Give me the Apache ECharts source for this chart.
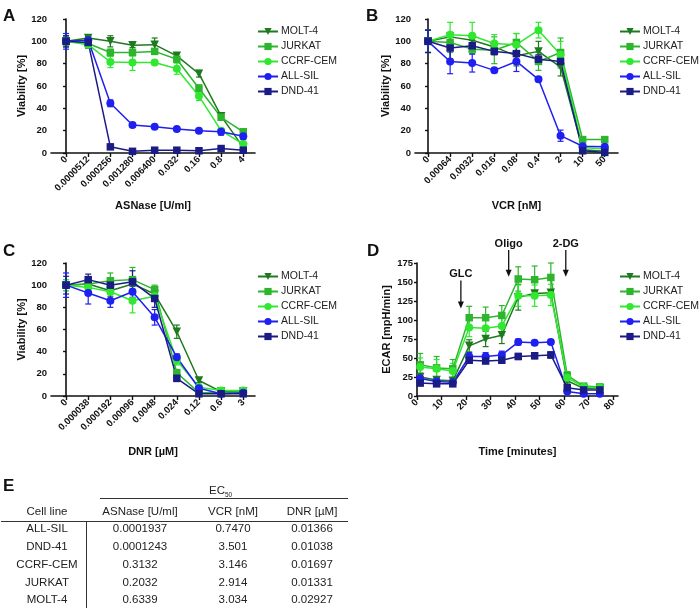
<!DOCTYPE html>
<html><head><meta charset="utf-8">
<script src="https://cdn.jsdelivr.net/npm/echarts@6/dist/echarts.min.js"></script>
<style>html,body{margin:0;padding:0;background:#fff}#c{width:700px;height:612px}</style>
</head><body><div id="c"></div>
<script>
// ---------- data ----------
const cellLines = ['MOLT-4', 'JURKAT', 'CCRF-CEM', 'ALL-SIL', 'DND-41'];

// Panel A: ASNase [U/ml]
const asnaseDoses = ['0', '0.0000512', '0.000256', '0.001280', '0.006400', '0.032', '0.16', '0.8', '4'];
const asnaseMOLT4 = [100, 103, 100, 96.5, 97, 87, 71, 33, 5];
const asnaseJURKAT = [100, 98, 90, 90, 91, 84, 58, 32, 19];
const asnaseCCRF = [100, 97, 81.5, 81, 81, 75.5, 51, 20, 8];
const asnaseALLSIL = [100, 101, 44.5, 25, 23.5, 21.5, 20, 19, 15];
const asnaseDND41 = [100, 99, 5.5, 1.5, 2.5, 2.5, 2, 4, 2.5];
const asnaseErrMOLT4 = [5, 3, 5, 2, 6, 2, 3, 2, 1];
const asnaseErrJURKAT = [4, 3, 3, 3, 2, 2, 3, 2, 1];
const asnaseErrCCRF = [4, 3, 5, 7, 2, 5, 4, 2, 1];
const asnaseErrALLSIL = [7, 3, 3, 2, 1, 1, 1, 3, 3];
const asnaseErrDND41 = [5, 5, 1, 1, 1, 1, 1, 1, 1];

// Panel B: VCR [nM]
const vcrDoses = ['0', '0.00064', '0.0032', '0.016', '0.08', '0.4', '2', '10', '50'];
const vcrMOLT4 = [100, 104, 101, 95, 87, 91, 77, 3, 1.5];
const vcrJURKAT = [100, 99, 93, 92, 99, 82, 90, 12, 12];
const vcrCCRF = [100, 106, 105, 98, 97, 110, 88, 5, 3.5];
const vcrALLSIL = [100, 82, 80.5, 74, 82, 66, 15.5, 6, 5.5];
const vcrDND41 = [100, 94, 96, 91, 89, 84, 82, 2, 0.5];
const vcrErrMOLT4 = [10, 3, 2, 3, 9, 9, 8, 1, 1];
const vcrErrJURKAT = [10, 9, 4, 12, 8, 8, 13, 1, 1];
const vcrErrCCRF = [10, 11, 12, 8, 10, 7, 12, 1, 1];
const vcrErrALLSIL = [10, 11, 8, 2, 9, 2, 5, 1, 1];
const vcrErrDND41 = [10, 10, 5, 3, 7, 4, 4, 1, 1];

// Panel C: DNR [µM]
const dnrDoses = ['0', '0.000038', '0.000192', '0.00096', '0.0048', '0.024', '0.12', '0.6', '3'];
const dnrMOLT4 = [100, 101, 95, 101, 92, 58, 14, 4, 4];
const dnrJURKAT = [100, 101, 104, 105, 96, 21, 3, 3, 4];
const dnrCCRF = [100, 98, 94, 86, 90, 32, 8, 5, 5];
const dnrALLSIL = [100, 93, 86, 94, 71, 35, 7, 2, 3];
const dnrDND41 = [100, 105, 100, 103, 88, 16, 2, 2, 2];
const dnrErrMOLT4 = [2, 3, 5, 6, 3, 6, 2, 1, 1];
const dnrErrJURKAT = [5, 5, 7, 11, 4, 3, 1, 1, 1];
const dnrErrCCRF = [5, 6, 7, 11, 4, 4, 2, 1, 1];
const dnrErrALLSIL = [11, 10, 6, 5, 7, 3, 2, 1, 1];
const dnrErrDND41 = [8, 5, 6, 10, 8, 3, 1, 1, 1];

// Panel D: ECAR [mpH/min] vs time [minutes]
const timeMin = [1.3, 8, 14.6, 21.3, 28, 34.6, 41.3, 48, 54.6, 61.3, 68, 74.6];
const timeTicks = [0, 10, 20, 30, 40, 50, 60, 70, 80];
const ecarMOLT4 = [25, 21, 20, 66, 75, 80, 130, 135, 136, 20, 10, 10];
const ecarJURKAT = [41, 37, 36, 103, 103, 106, 154, 153, 156, 27, 13, 12];
const ecarCCRF = [38, 36, 33, 90, 89, 92, 132, 132, 133, 24, 12, 11];
const ecarALLSIL = [23, 19, 18, 52, 52, 54, 71, 70, 71, 6, 3, 3];
const ecarDND41 = [17, 16, 16, 47, 46, 47, 52, 53, 54, 11, 8, 8];
const ecarErrMOLT4 = [5, 4, 4, 8, 10, 11, 17, 3, 3, 3, 2, 2];
const ecarErrJURKAT = [15, 15, 12, 15, 14, 13, 16, 18, 19, 5, 2, 2];
const ecarErrCCRF = [12, 12, 10, 12, 12, 12, 14, 14, 14, 5, 2, 2];
const ecarErrALLSIL = [5, 4, 3, 5, 5, 5, 4, 3, 3, 2, 1, 1];
const ecarErrDND41 = [3, 3, 2, 3, 3, 3, 4, 4, 4, 2, 1, 1];
const injLabels = ['GLC', 'Oligo', '2-DG'];
const injTimes = [17.9, 37.4, 60.7];
const injArrowTop = [152, 192, 192];
const injArrowTip = [115, 157, 157];

// Panel E: EC50 table
const tableHeaders = ['Cell line', 'ASNase [U/ml]', 'VCR [nM]', 'DNR [µM]'];
const tableCellLines = ['ALL-SIL', 'DND-41', 'CCRF-CEM', 'JURKAT', 'MOLT-4'];
const ec50ASNase = ['0.0001937', '0.0001243', '0.3132', '0.2032', '0.6339'];
const ec50VCR = ['0.7470', '3.501', '3.146', '2.914', '3.034'];
const ec50DNR = ['0.01366', '0.01038', '0.01697', '0.01331', '0.02927'];

// ---------- styles ----------
const FF = '"Liberation Sans", Arial, Helvetica, sans-serif';
const colors = ['#1e7a1e', '#2db52d', '#2fe82f', '#1f1ff2', '#1b1b86'];
const symbols = ['triangle', 'rect', 'circle', 'circle', 'rect'];
const symRot = [180, 0, 0, 0, 0];
const symSize = [8.5, 7.5, 8, 8, 7.5];
const INK = '#111';

const panels = [
  { grid: { left: 51, top: 19, width: 204, height: 134 }, cats: asnaseDoses, xmin: -0.68, xmax: 8.53,
    means: [asnaseMOLT4, asnaseJURKAT, asnaseCCRF, asnaseALLSIL, asnaseDND41],
    errs: [asnaseErrMOLT4, asnaseErrJURKAT, asnaseErrCCRF, asnaseErrALLSIL, asnaseErrDND41],
    xname: 'ASNase [U/ml]', xgap: 47, yname: 'Viability [%]', ymax: 120, yint: 20, legend: { left: 257, top: 26 } },
  { grid: { left: 415, top: 19, width: 203, height: 134 }, cats: vcrDoses, xmin: -0.59, xmax: 8.6,
    means: [vcrMOLT4, vcrJURKAT, vcrCCRF, vcrALLSIL, vcrDND41],
    errs: [vcrErrMOLT4, vcrErrJURKAT, vcrErrCCRF, vcrErrALLSIL, vcrErrDND41],
    xname: 'VCR [nM]', xgap: 47, yname: 'Viability [%]', ymax: 120, yint: 20, legend: { left: 619, top: 26 } },
  { grid: { left: 51, top: 263, width: 204, height: 133 }, cats: dnrDoses, xmin: -0.68, xmax: 8.53,
    means: [dnrMOLT4, dnrJURKAT, dnrCCRF, dnrALLSIL, dnrDND41],
    errs: [dnrErrMOLT4, dnrErrJURKAT, dnrErrCCRF, dnrErrALLSIL, dnrErrDND41],
    xname: 'DNR [µM]', xgap: 50, yname: 'Viability [%]', ymax: 120, yint: 20, legend: { left: 257, top: 271 } },
  { grid: { left: 417, top: 263, width: 201, height: 133 }, xs: timeMin, xmin: 0, xmax: 82,
    means: [ecarMOLT4, ecarJURKAT, ecarCCRF, ecarALLSIL, ecarDND41],
    errs: [ecarErrMOLT4, ecarErrJURKAT, ecarErrCCRF, ecarErrALLSIL, ecarErrDND41],
    xname: 'Time [minutes]', xgap: 50, yname: 'ECAR [mpH/min]', ymax: 175, yint: 25, legend: { left: 619, top: 271 } }
];

function errRender(params, api) {
  const x = api.value(0), y = api.value(1), e = api.value(2);
  const hi = api.coord([x, y + e]), lo = api.coord([x, y - e]);
  const w = 3;
  const style = { stroke: api.visual('color'), lineWidth: 1.2 };
  return { type: 'group', children: [
    { type: 'line', shape: { x1: hi[0], y1: hi[1], x2: lo[0], y2: lo[1] }, style },
    { type: 'line', shape: { x1: hi[0] - w, y1: hi[1], x2: hi[0] + w, y2: hi[1] }, style },
    { type: 'line', shape: { x1: lo[0] - w, y1: lo[1], x2: lo[0] + w, y2: lo[1] }, style }
  ] };
}

const grids = [], xAxes = [], yAxes = [], series = [], legends = [];
panels.forEach((p, gi) => {
  grids.push(p.grid);
  const isCat = !!p.cats;
  const tickVals = isCat ? p.cats.map((_, i) => i) : timeTicks;
  xAxes.push({
    type: 'value', gridIndex: gi, min: p.xmin, max: p.xmax,
    name: p.xname, nameLocation: 'middle', nameGap: p.xgap,
    nameTextStyle: { fontWeight: 'bold', fontSize: 11, color: INK, fontFamily: FF },
    axisLine: { show: true, onZero: false, lineStyle: { color: INK, width: 1.6 } },
    axisTick: { show: true, length: 4, lineStyle: { color: INK, width: 1.4 }, customValues: tickVals },
    axisLabel: { rotate: 45, fontSize: 9.5, fontWeight: 'bold', color: INK, fontFamily: FF, margin: 5,
      customValues: tickVals,
      formatter: v => isCat ? (p.cats[Math.round(v)] ?? '') : String(v) },
    splitLine: { show: false }
  });
  yAxes.push({
    type: 'value', gridIndex: gi, min: 0, max: p.ymax, interval: p.yint,
    name: p.yname, nameLocation: 'middle', nameGap: gi === 3 ? 25 : 21,
    nameTextStyle: { fontWeight: 'bold', fontSize: 11, color: INK, fontFamily: FF },
    axisLine: { show: true, lineStyle: { color: INK, width: 1.6 } },
    axisTick: { show: true, length: 3, lineStyle: { color: INK, width: 1.4 } },
    axisLabel: { fontSize: 9.5, fontWeight: 'bold', color: INK, fontFamily: FF, margin: 4 },
    splitLine: { show: false }
  });
  cellLines.forEach((name, si) => {
    const xs = isCat ? p.cats.map((_, i) => i) : p.xs;
    series.push({
      type: 'custom', name: name + ' err', xAxisIndex: gi, yAxisIndex: gi,
      renderItem: errRender, itemStyle: { color: colors[si] }, silent: true, z: 2,
      data: p.means[si].map((v, i) => [xs[i], v, p.errs[si][i]])
    });
    series.push({
      type: 'line', name, xAxisIndex: gi, yAxisIndex: gi,
      data: p.means[si].map((v, i) => [xs[i], v]),
      symbol: symbols[si], symbolRotate: symRot[si], symbolSize: symSize[si],
      showAllSymbol: true,
      itemStyle: { color: colors[si], borderWidth: 0 },
      lineStyle: { color: colors[si], width: 1.5 }, z: 3
    });
  });
  legends.push({
    data: cellLines, orient: 'vertical', left: p.legend.left, top: p.legend.top,
    itemWidth: 20, itemHeight: 9, itemGap: 4, padding: 0, selectedMode: false,
    textStyle: { fontSize: 10.5, color: '#222', fontFamily: FF, padding: [0, 0, 0, -2] }
  });
});

const chart = echarts.init(document.getElementById('c'), null, { renderer: 'canvas' });
chart.setOption({
  animation: false, backgroundColor: '#fff',
  grid: grids, xAxis: xAxes, yAxis: yAxes, series, legend: legends
});

// ---------- graphics: panel letters, injection arrows, table ----------
const g = [];
const letters = [['A', 3, 8], ['B', 366, 8], ['C', 3, 243], ['D', 367, 243], ['E', 3, 478]];
letters.forEach(([t, x, y]) => g.push({ type: 'text', silent: true,
  style: { text: t, x, y, font: 'bold 17px ' + FF, fill: INK } }));

injLabels.forEach((lab, i) => {
  const top = chart.convertToPixel({ gridIndex: 3 }, [injTimes[i], injArrowTop[i]]);
  const tip = chart.convertToPixel({ gridIndex: 3 }, [injTimes[i], injArrowTip[i]]);
  const hl = 7, hw = 3;
  g.push({ type: 'line', silent: true, shape: { x1: top[0], y1: top[1], x2: tip[0], y2: tip[1] - hl + 1 },
    style: { stroke: INK, lineWidth: 1.3 } });
  g.push({ type: 'polygon', silent: true, shape: { points: [[tip[0] - hw, tip[1] - hl], [tip[0] + hw, tip[1] - hl], [tip[0], tip[1]]] },
    style: { fill: INK } });
  g.push({ type: 'text', silent: true, style: { text: lab, x: top[0], y: top[1] - 1, align: 'center', textAlign: 'center',
    verticalAlign: 'bottom', textVerticalAlign: 'bottom', font: 'bold 11px ' + FF, fill: INK } });
});

// table
const tFont = '11.5px ' + FF, tFill = '#222';
const colX = [47, 140, 233, 312];
const rowY = [529, 547, 565, 583, 600];
const headY = 512;
function tText(t, x, y, font) {
  g.push({ type: 'text', silent: true, style: { text: t, x, y, align: 'center', textAlign: 'center',
    verticalAlign: 'middle', textVerticalAlign: 'middle', font: font || tFont, fill: tFill } });
}
// EC50 header with subscript
g.push({ type: 'text', silent: true, style: { text: 'EC', x: 225, y: 491, align: 'right', textAlign: 'right',
  verticalAlign: 'middle', textVerticalAlign: 'middle', font: tFont, fill: tFill } });
g.push({ type: 'text', silent: true, style: { text: '50', x: 225, y: 495, align: 'left', textAlign: 'left',
  verticalAlign: 'middle', textVerticalAlign: 'middle', font: '6.5px ' + FF, fill: tFill } });
tableHeaders.forEach((h, i) => tText(h, colX[i], headY));
tableCellLines.forEach((c, r) => {
  tText(c, colX[0], rowY[r]);
  tText(ec50ASNase[r], colX[1], rowY[r]);
  tText(ec50VCR[r], colX[2], rowY[r]);
  tText(ec50DNR[r], colX[3], rowY[r]);
});
const lineStyle = { stroke: '#333', lineWidth: 1 };
g.push({ type: 'line', silent: true, shape: { x1: 100, y1: 498.5, x2: 348, y2: 498.5 }, style: lineStyle });
g.push({ type: 'line', silent: true, shape: { x1: 1, y1: 521.5, x2: 348, y2: 521.5 }, style: lineStyle });
g.push({ type: 'line', silent: true, shape: { x1: 86.5, y1: 521.5, x2: 86.5, y2: 608 }, style: lineStyle });

chart.setOption({ graphic: g });
</script>
</body></html>
